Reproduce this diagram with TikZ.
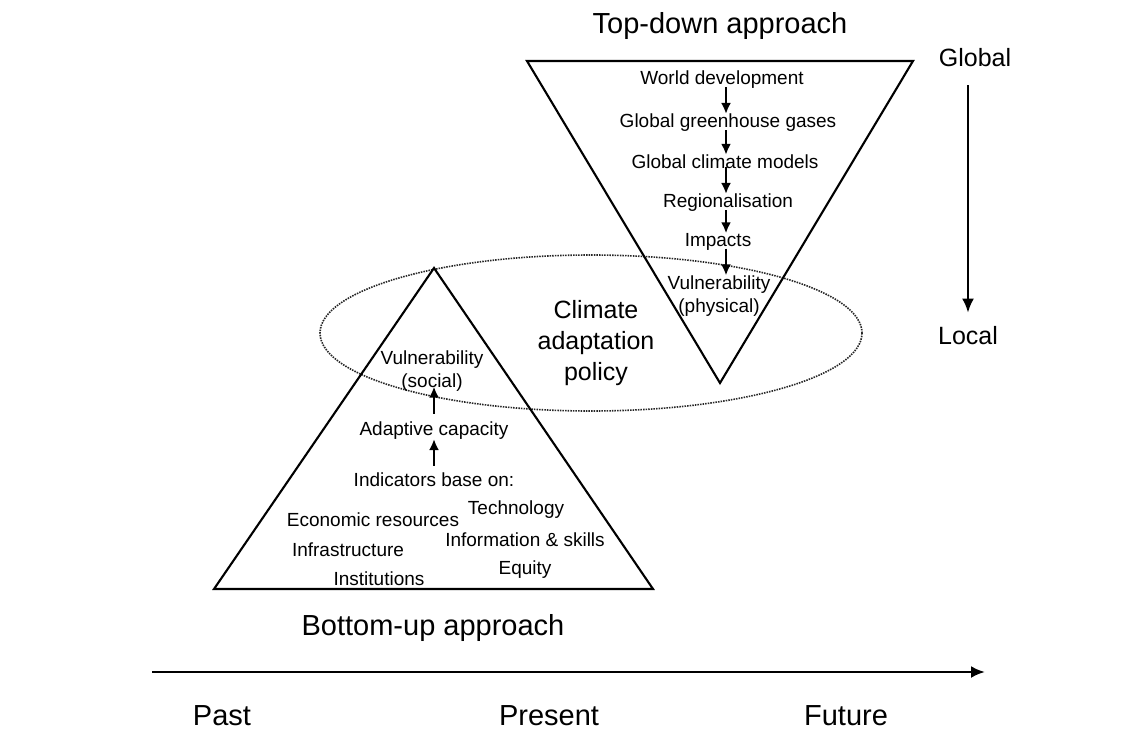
\documentclass[tikz,border=0pt]{standalone}
\usepackage{fontspec}
\setmainfont{Liberation Sans}
\usetikzlibrary{arrows.meta}
\begin{document}
\begin{tikzpicture}[x=1pt,y=-1pt,
  lab/.style={inner sep=0pt,font=\fontsize{19}{23}\selectfont,align=center},
  big/.style={inner sep=0pt,font=\fontsize{29}{33}\selectfont,align=center},
  mid/.style={inner sep=0pt,font=\fontsize{25}{31}\selectfont,align=center},
  tri/.style={draw,line width=2.1pt,line join=miter},
  sarr/.style={line width=2.4pt,-{Latex[length=11pt,width=10pt]}},
  larr/.style={line width=2.2pt,-{Latex[length=14pt,width=12pt]}},
  tarr/.style={line width=2.6pt,-{Latex[length=14pt,width=12pt]}},
  dots/.style={line width=1.6pt,dash pattern=on 1.5pt off 1.1pt,black!85}
]
\fill[white] (0,0) rectangle (1145,731);
\useasboundingbox (0,0) rectangle (1145,731);

% shapes
\draw[dots] (591,333) ellipse [x radius=271pt, y radius=78pt];
\draw[tri] (527,61) -- (913,61) -- (720,383) -- cycle;
\draw[tri] (434,268) -- (653,589) -- (214,589) -- cycle;

% top-down
\node[big] (td) at (720,26) {Top-down approach};
\node[mid] (gl) at (975,58) {Global};
\node[mid] (lo) at (968,336) {Local};
\draw[larr,shorten <=18pt,shorten >=14pt] (gl.south -| lo) -- (lo.north);

\coordinate (ax) at (726,0);
\node[lab] (wd) at (722,80) {World development};
\node[lab] (gg) at (728,123) {Global greenhouse gases};
\node[lab] (gc) at (725,162) {Global climate models};
\node[lab] (rg) at (728,203) {Regionalisation};
\node[lab] (im) at (718,242) {Impacts};
\node[lab] (vp) at (719,296) {Vulnerability\\(physical)};
\draw[sarr,shorten <=-2pt] (wd.south -| ax) -- (gg.north -| ax);
\draw[sarr,shorten <=-2pt] (gg.south -| ax) -- (gc.north -| ax);
\draw[sarr,shorten <=-2pt] (gc.south -| ax) -- (rg.north -| ax);
\draw[sarr,shorten <=-2pt] (rg.south -| ax) -- (im.north -| ax);
\draw[sarr,shorten <=-2pt] (im.south -| ax) -- (vp.north -| ax);

% centre
\node[mid] (cap) at (596,343) {Climate\\adaptation\\policy};

% bottom-up
\coordinate (bx) at (434,0);
\node[lab] (vs) at (432,371) {Vulnerability\\(social)};
\node[lab] (ac) at (434,431) {Adaptive capacity};
\node[lab] (ib) at (434,480) {Indicators base on:};
\node[lab] (er) at (373,520) {Economic resources};
\node[lab] (te) at (516,510) {Technology};
\node[lab] (in) at (348,550) {Infrastructure};
\node[lab] (is) at (525,540) {Information \& skills};
\node[lab] (it) at (379,579) {Institutions};
\node[lab] (eq) at (525,570) {Equity};
\draw[sarr,shorten <=8pt,shorten >=-5pt] (ac.north -| bx) -- (vs.south -| bx);
\draw[sarr,shorten <=7pt,shorten >=-1pt] (ib.north -| bx) -- (ac.south -| bx);

\node[big] (bu) at (433,628) {Bottom-up approach};

% timeline
\coordinate (t0) at (152,672);
\coordinate (t1) at (985,672);
\draw[tarr] (t0) -- (t1);
\node[big] (pa) at (222,716) {Past};
\node[big] (pr) at (549,716) {Present};
\node[big] (fu) at (846,716) {Future};
\end{tikzpicture}
\end{document}
